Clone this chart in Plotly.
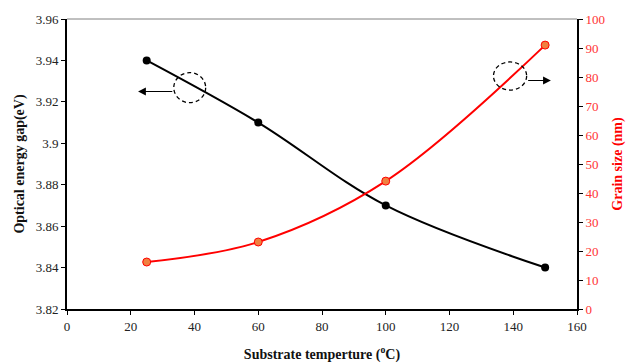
import plotly.graph_objects as go

# Substrate temperature (°C)
temperature = [25, 60, 100, 150]
# Optical energy gap (eV)
energy_gap = [3.94, 3.91, 3.87, 3.84]
# Grain size (nm)
grain_size = [16.2, 23.1, 44.1, 91.0]

x_ticks = list(range(0, 161, 20))
gap_ticks = [3.82, 3.84, 3.86, 3.88, 3.9, 3.92, 3.94, 3.96]
gap_tick_text = ["3.82", "3.84", "3.86", "3.88", "3.9", "3.92", "3.94", "3.96"]
size_ticks = list(range(0, 101, 10))

FONT = "Times New Roman"

fig = go.Figure()

fig.add_trace(go.Scatter(
    x=temperature, y=energy_gap, mode="lines+markers",
    line=dict(color="black", width=2, shape="spline", smoothing=1.0),
    marker=dict(color="black", size=8),
    yaxis="y", showlegend=False,
))

fig.add_trace(go.Scatter(
    x=temperature, y=grain_size, mode="lines+markers",
    line=dict(color="#FF0000", width=2, shape="spline", smoothing=1.0),
    marker=dict(color="#F08040", size=8, line=dict(color="#FF0000", width=1)),
    yaxis="y2", showlegend=False,
))

# dashed ellipses marking each curve, with arrows pointing to its axis
fig.add_shape(type="circle", xref="x", yref="y",
              x0=33.5, x1=43.5, y0=3.9196, y1=3.9341,
              line=dict(color="black", width=1.3, dash="4px,3px"))
fig.add_shape(type="circle", xref="x", yref="y2",
              x0=133.8, x1=144.2, y0=75.5, y1=85.2,
              line=dict(color="black", width=1.3, dash="4px,3px"))

fig.add_annotation(x=22.3, y=3.925, xref="x", yref="y",
                   ax=33.5, ay=3.925, axref="x", ayref="y",
                   showarrow=True, arrowhead=2, arrowsize=1.3, arrowwidth=1.2,
                   arrowcolor="black", text="")
fig.add_annotation(x=151.8, y=78.8, xref="x", yref="y2",
                   ax=144.2, ay=78.8, axref="x", ayref="y2",
                   showarrow=True, arrowhead=2, arrowsize=1.3, arrowwidth=1.2,
                   arrowcolor="black", text="")

# thin grey frame line along the top of the plot area
fig.add_shape(type="line", xref="paper", yref="paper", x0=0, x1=1, y0=1, y1=1,
              line=dict(color="#808080", width=1))

fig.update_layout(
    width=628, height=363,
    margin=dict(l=67, r=51, t=19, b=54),
    paper_bgcolor="white", plot_bgcolor="white",
    font=dict(family=FONT, size=13, color="#222222"),
    xaxis=dict(
        range=[0, 160], tickvals=x_ticks, showgrid=False, zeroline=False,
        automargin=False,
        showline=True, linecolor="black", linewidth=2,
        ticks="outside", ticklen=4, tickcolor="black", tickwidth=1,
        tickfont=dict(family=FONT, size=13, color="#222222"),
        title=dict(text="<b>Substrate temperture (<sup>o</sup>C)</b>",
                   font=dict(family=FONT, size=14, color="#111111"), standoff=18),
    ),
    yaxis=dict(
        range=[3.82, 3.96], tickvals=gap_ticks, ticktext=gap_tick_text,
        showgrid=False, zeroline=False, automargin=False,
        showline=True, linecolor="black", linewidth=2,
        ticks="outside", ticklen=4, tickcolor="black", tickwidth=1,
        tickfont=dict(family=FONT, size=13, color="#222222"),
        title=dict(text="<b>Optical energy gap(eV)</b>",
                   font=dict(family=FONT, size=14, color="#111111"), standoff=8),
    ),
    yaxis2=dict(
        range=[0, 100], tickvals=size_ticks, overlaying="y", side="right",
        showgrid=False, zeroline=False, automargin=False,
        showline=True, linecolor="black", linewidth=2,
        ticks="outside", ticklen=4, tickcolor="black", tickwidth=1,
        tickfont=dict(family=FONT, size=13, color="#FF3333"),
        title=dict(text="<b>Grain size (nm)</b>",
                   font=dict(family=FONT, size=14, color="#FF0000"), standoff=8),
    ),
)

fig.write_html("out.html")
